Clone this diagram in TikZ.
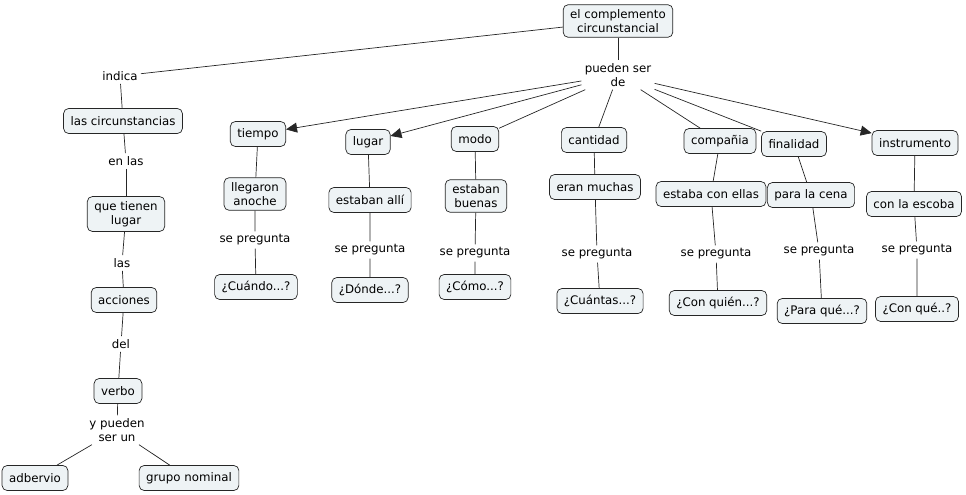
\documentclass[tikz,border=0pt]{standalone}
\usepackage{fontspec}
\setmainfont{DejaVu Sans}
\usetikzlibrary{arrows.meta}
\definecolor{boxfill}{HTML}{EEF3F5}

\begin{document}
\begin{tikzpicture}[x=1pt,y=-1pt,line width=0.7pt,draw=black!85,
  concept/.style={draw=black!85,fill=boxfill,rounded corners=5pt,inner xsep=7pt,inner ysep=5pt,
    minimum height=25pt,align=center,font=\fontsize{11.8}{13.5}\selectfont},
  link/.style={inner sep=3pt,align=center,font=\fontsize{11.8}{13.5}\selectfont},
  arr/.style={-{Triangle[length=11pt,width=10pt]}}]
\useasboundingbox (0,0) rectangle (966,495);
% top
\node[concept] (cc) at (618,21) {el complemento\\circunstancial};
\node[link] (psd) at (618,75) {pueden ser\\de};
% left column
\node[link] (indica) at (120,76) {indica};
\node[concept] (circ) at (123,121) {las circunstancias};
\node[link] (enlas) at (126,161) {en las};
\node[concept] (qtl) at (126,214) {que tienen\\lugar};
\node[link] (las) at (122,263) {las};
\node[concept] (acc) at (124,300) {acciones};
\node[link] (del) at (121,344) {del};
\node[concept] (verbo) at (118,391) {verbo};
\node[link] (ypsu) at (117,430) {y pueden\\ser un};
\node[concept] (adv) at (35,478) {adbervio};
\node[concept] (gn) at (189,478) {grupo nominal};
% kinds
\node[concept] (tiempo) at (258,134) {tiempo};
\node[concept] (lugar) at (368,142) {lugar};
\node[concept] (modo) at (475,139) {modo};
\node[concept] (cant) at (594,140) {cantidad};
\node[concept] (comp) at (720,141) {compañia};
\node[concept] (fin) at (794,144) {finalidad};
\node[concept] (instr) at (915,143) {instrumento};
% examples
\node[concept] (exa) at (255,194) {llegaron\\anoche};
\node[concept] (exb) at (370,200) {estaban allí};
\node[concept] (exc) at (476,196) {estaban\\buenas};
\node[concept] (exd) at (595,187) {eran muchas};
\node[concept] (exe) at (711,194) {estaba con ellas};
\node[concept] (exf) at (811,195) {para la cena};
\node[concept] (exg) at (914,204) {con la escoba};
% se pregunta
\node[link] (spa) at (255,240) {se pregunta};
\node[link] (spb) at (370,250) {se pregunta};
\node[link] (spc) at (475,253) {se pregunta};
\node[link] (spd) at (597,254) {se pregunta};
\node[link] (spe) at (716,254) {se pregunta};
\node[link] (spf) at (819,251) {se pregunta};
\node[link] (spg) at (917,250) {se pregunta};
% questions
\node[concept] (qa) at (256,287) {¿Cuándo...?};
\node[concept] (qb) at (370,290) {¿Dónde...?};
\node[concept] (qc) at (475,287) {¿Cómo...?};
\node[concept] (qd) at (600,301) {¿Cuántas...?};
\node[concept] (qe) at (718,303) {¿Con quién...?};
\node[concept] (qf) at (822,311) {¿Para qué...?};
\node[concept] (qg) at (917,309) {¿Con qué..?};
% connectors
\draw (cc) -- (indica);
\draw (cc) -- (psd);
\foreach \a/\b in {indica/circ,circ/enlas,enlas/qtl,qtl/las,las/acc,acc/del,del/verbo,
    verbo/ypsu,ypsu/adv,ypsu/gn,psd/modo,psd/cant,psd/comp,psd/fin}
  \draw (\a) -- (\b);
\foreach \b in {tiempo,lugar,instr}
  \draw[arr] (psd) -- (\b);
\foreach \k/\e/\s/\q in {tiempo/exa/spa/qa,lugar/exb/spb/qb,modo/exc/spc/qc,cant/exd/spd/qd,
    comp/exe/spe/qe,fin/exf/spf/qf,instr/exg/spg/qg}
  \draw (\k) -- (\e) (\e) -- (\s) (\s) -- (\q);
\end{tikzpicture}
\end{document}
